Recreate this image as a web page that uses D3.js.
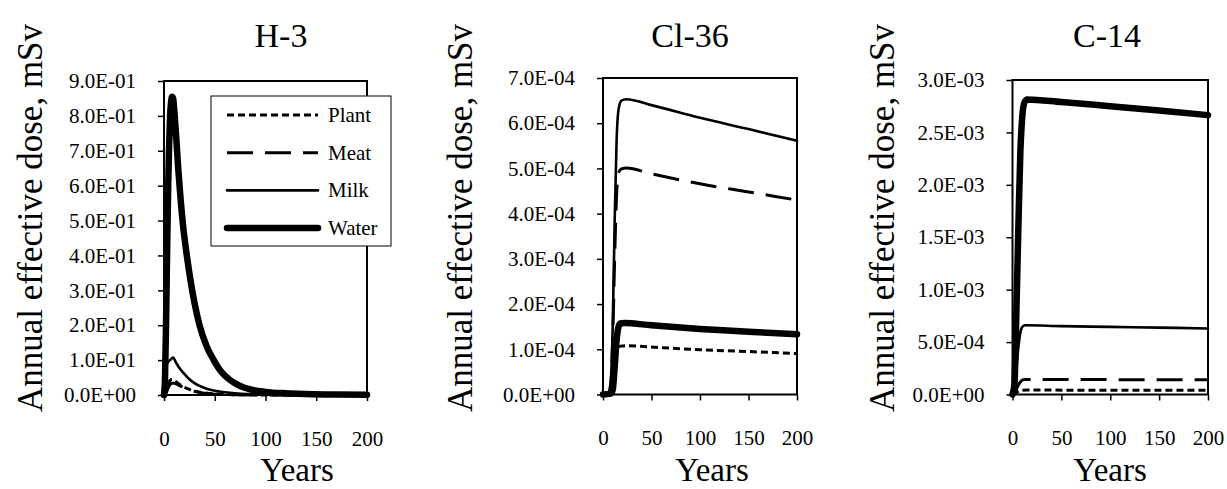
<!DOCTYPE html>
<html>
<head>
<meta charset="utf-8">
<script src="https://cdn.jsdelivr.net/npm/d3@7"></script>
<style>
  body { margin: 0; background: #fff; }
  text { font-family: "Liberation Serif", "Times New Roman", serif; fill: #000; }
</style>
</head>
<body>
<div id="chart"></div>
<script>
const seriesNames = ["Plant", "Meat", "Milk", "Water"]
const xTicks = [0, 50, 100, 150, 200]

// H-3 [year, mSv]
const h3Plant = [[0,0],[2,0.01],[4,0.03],[6,0.042],[8,0.045],[10,0.042],[14,0.033],[19,0.024],[25,0.016],[32,0.01],[40,0.006],[50,0.003],[70,0.001],[100,0.0003],[200,0]]
const h3Meat = [[0,0],[2,0.005],[4,0.02],[6,0.03],[8,0.034],[10,0.034],[14,0.029],[19,0.022],[25,0.015],[32,0.009],[40,0.005],[50,0.0025],[70,0.0008],[100,0.0002],[200,0]]
const h3Milk = [[0,0],[1,0.03],[2,0.08],[4,0.095],[6,0.1],[9,0.107],[12,0.092],[15,0.078],[19,0.064],[25,0.045],[30,0.034],[35,0.026],[42,0.018],[50,0.012],[60,0.008],[70,0.005],[85,0.0025],[100,0.0012],[130,0.0004],[200,0]]
const h3Water = [[0,0],[1,0.05],[2,0.2],[3,0.4],[4,0.58],[5,0.71],[6,0.8],[7,0.84],[8,0.855],[9,0.85],[10,0.82],[12,0.74],[14,0.65],[16,0.575],[19,0.48],[22,0.41],[25,0.35],[30,0.265],[35,0.2],[42,0.14],[49,0.1],[56,0.068],[65,0.043],[75,0.026],[85,0.016],[100,0.009],[120,0.005],[140,0.003],[170,0.0015],[200,0.001]]
const h3Ticks = [0, 0.1, 0.2, 0.3, 0.4, 0.5, 0.6, 0.7, 0.8, 0.9]

// Cl-36
const cl36Plant = [[0,0],[6,0],[9,0.1e-4],[11,0.4e-4],[13,0.85e-4],[15,1.03e-4],[18,1.07e-4],[25,1.08e-4],[50,1.05e-4],[100,0.99e-4],[150,0.95e-4],[200,0.905e-4]]
const cl36Meat = [[0,0],[6,0],[8,0.2e-4],[10,1.2e-4],[12,3.0e-4],[14,4.4e-4],[16,4.9e-4],[19,4.99e-4],[24,5.01e-4],[50,4.88e-4],[100,4.66e-4],[150,4.48e-4],[200,4.3e-4]]
const cl36Milk = [[0,0],[5,0],[8,0.3e-4],[10,1.5e-4],[12,3.8e-4],[14,5.6e-4],[16,6.3e-4],[19,6.5e-4],[24,6.53e-4],[50,6.4e-4],[100,6.12e-4],[150,5.87e-4],[200,5.61e-4]]
const cl36Water = [[0,0],[8,0.02e-4],[10,0.1e-4],[12,0.6e-4],[14,1.2e-4],[16,1.5e-4],[18,1.57e-4],[22,1.58e-4],[50,1.53e-4],[100,1.45e-4],[150,1.39e-4],[200,1.33e-4]]
const cl36Ticks = [0, 1e-4, 2e-4, 3e-4, 4e-4, 5e-4, 6e-4, 7e-4]

// C-14
const c14Plant = [[0,0],[3,0.01e-3],[6,0.03e-3],[9,0.04e-3],[15,0.042e-3],[100,0.041e-3],[200,0.04e-3]]
const c14Meat = [[0,0],[3,0.03e-3],[6,0.09e-3],[9,0.13e-3],[12,0.143e-3],[50,0.143e-3],[100,0.142e-3],[200,0.14e-3]]
const c14Milk = [[0,0],[2,0.05e-3],[4,0.25e-3],[6,0.45e-3],[8,0.59e-3],[10,0.645e-3],[13,0.66e-3],[50,0.652e-3],[100,0.645e-3],[150,0.638e-3],[200,0.63e-3]]
const c14Water = [[0,0],[2,0.1e-3],[4,0.8e-3],[6,1.6e-3],[8,2.3e-3],[10,2.65e-3],[12,2.78e-3],[15,2.815e-3],[50,2.79e-3],[100,2.75e-3],[150,2.71e-3],[200,2.665e-3]]
const c14Ticks = [0, 0.5e-3, 1e-3, 1.5e-3, 2e-3, 2.5e-3, 3e-3]

const panels = [
  { title: "H-3", series: [h3Plant, h3Meat, h3Milk, h3Water], yMax: 0.9, yTicks: h3Ticks,
    left: 164, right: 367, top: 81, bottom: 395, titleX: 281, yTitleX: 42, xTitleX: 297, legend: true },
  { title: "Cl-36", series: [cl36Plant, cl36Meat, cl36Milk, cl36Water], yMax: 7e-4, yTicks: cl36Ticks,
    left: 603, right: 797, top: 78, bottom: 394.5, titleX: 690, yTitleX: 472, xTitleX: 712 },
  { title: "C-14", series: [c14Plant, c14Meat, c14Milk, c14Water], yMax: 3e-3, yTicks: c14Ticks,
    left: 1012.5, right: 1208, top: 80, bottom: 394.5, titleX: 1107, yTitleX: 894, xTitleX: 1110 },
]

const styles = [
  { width: 3, dash: "7,4", cap: "butt" },
  { width: 3, dash: "26,12", cap: "butt" },
  { width: 2.6, dash: null, cap: "round" },
  { width: 6.5, dash: null, cap: "round" },
]

const sciFormat = v => {
  const [m, e] = v.toExponential(1).split("e")
  return m + "E" + e[0] + e.slice(1).padStart(2, "0")
}

const svg = d3.select("#chart")
  .append("svg")
  .attr("width", 1227)
  .attr("height", 489)

svg.append("rect").attr("width", 1227).attr("height", 489).attr("fill", "#fff")

panels.forEach(p => {
  const xScale = d3.scaleLinear().domain([0, 200]).range([p.left, p.right])
  const yScale = d3.scaleLinear().domain([0, p.yMax]).range([p.bottom, p.top])

  const g = svg.append("g")

  // y axis
  const yAxisGroup = g.append("g")
    .attr("transform", `translate(${p.left},0)`)
    .call(d3.axisLeft(yScale).tickValues(p.yTicks).tickFormat(sciFormat).tickSize(6).tickPadding(22))
  yAxisGroup.select(".domain").remove()
  yAxisGroup.selectAll(".tick line").attr("stroke", "#000").attr("stroke-width", 1.5)
  yAxisGroup.selectAll(".tick text")
    .style("font-family", "'Liberation Serif', serif")
    .style("font-size", "21px")
    .attr("fill", "#000")

  // x axis
  const xAxisGroup = g.append("g")
    .attr("transform", `translate(0,${p.bottom})`)
    .call(d3.axisBottom(xScale).tickValues(xTicks).tickSize(6).tickPadding(30))
  xAxisGroup.select(".domain").remove()
  xAxisGroup.selectAll(".tick line").attr("stroke", "#000").attr("stroke-width", 1.5)
  xAxisGroup.selectAll(".tick text")
    .style("font-family", "'Liberation Serif', serif")
    .style("font-size", "21px")
    .attr("fill", "#000")

  // lines
  const line = d3.line()
    .x(d => xScale(d[0]))
    .y(d => yScale(d[1]))
    .curve(d3.curveMonotoneX)

  p.series.forEach((s, i) => {
    g.append("path")
      .datum(s)
      .attr("d", line)
      .attr("fill", "none")
      .attr("stroke", "#000")
      .attr("stroke-width", styles[i].width)
      .attr("stroke-dasharray", styles[i].dash)
      .attr("stroke-linecap", styles[i].cap)
      .attr("stroke-linejoin", "round")
  })

  // plot box
  g.append("rect")
    .attr("x", p.left)
    .attr("y", p.top)
    .attr("width", p.right - p.left)
    .attr("height", p.bottom - p.top)
    .attr("fill", "none")
    .attr("stroke", "#000")
    .attr("stroke-width", 2)

  // titles
  g.append("text")
    .attr("x", p.titleX)
    .attr("y", 47)
    .attr("text-anchor", "middle")
    .style("font-size", "34px")
    .text(p.title)

  g.append("text")
    .attr("x", p.xTitleX)
    .attr("y", 481)
    .attr("text-anchor", "middle")
    .style("font-size", "33px")
    .text("Years")

  g.append("text")
    .attr("transform", `translate(${p.yTitleX},218) rotate(-90)`)
    .attr("text-anchor", "middle")
    .style("font-size", "35px")
    .text("Annual effective dose, mSv")

  if (p.legend) {
    const lg = g.append("g").attr("transform", "translate(211,96)")
    lg.append("rect")
      .attr("width", 180)
      .attr("height", 150)
      .attr("fill", "#fff")
      .attr("stroke", "#000")
      .attr("stroke-width", 1)
    seriesNames.forEach((name, i) => {
      const y = 19 + i * 37.7
      lg.append("line")
        .attr("x1", 16).attr("x2", 107)
        .attr("y1", y).attr("y2", y)
        .attr("stroke", "#000")
        .attr("stroke-width", styles[i].width)
        .attr("stroke-dasharray", styles[i].dash)
        .attr("stroke-linecap", styles[i].cap)
      lg.append("text")
        .attr("x", 117)
        .attr("y", y)
        .attr("dy", "0.33em")
        .style("font-size", "21px")
        .text(name)
    })
  }
})
</script>
</body>
</html>
